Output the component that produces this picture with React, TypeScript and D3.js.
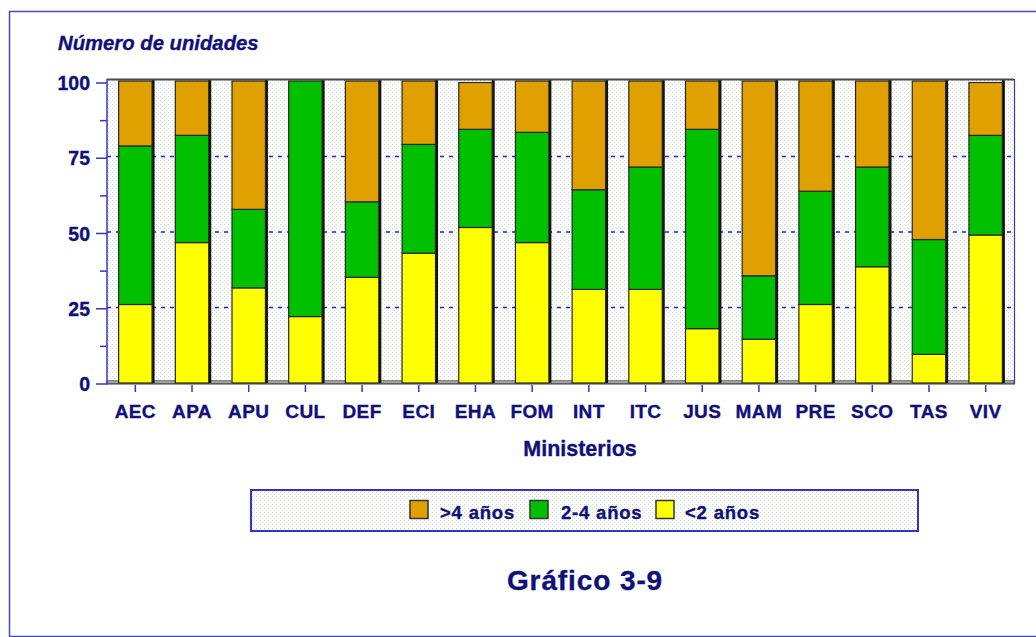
import React from 'react';
import * as d3 from 'd3';

const categories = ['AEC', 'APA', 'APU', 'CUL', 'DEF', 'ECI', 'EHA', 'FOM', 'INT', 'ITC', 'JUS', 'MAM', 'PRE', 'SCO', 'TAS', 'VIV'];
const lessThan2 = [26, 46.5, 31.5, 22, 35, 43, 51.5, 46.5, 31, 31, 18, 14.5, 26, 38.5, 9.5, 49];
const from2to4 = [52.5, 35.5, 26, 78, 25, 36, 32.5, 36.5, 33, 40.5, 66, 21, 37.5, 33, 38, 33];
const moreThan4 = [21.5, 18, 42.5, 0, 40, 21, 15.5, 17, 36, 28.5, 16, 64.5, 36.5, 28.5, 52.5, 17.5];
const yTicks = [0, 25, 50, 75, 100];
const gridValues = [25, 50, 75];
const seriesKeys = ['lt2', 'mid', 'gt4'];
const seriesColors: Record<string, string> = { lt2: '#ffff00', mid: '#00c000', gt4: '#e0a000' };
const legendItems = [
  { label: '>4 años', color: '#e0a000', x: 410, tx: 440 },
  { label: '2-4 años', color: '#00c000', x: 530, tx: 561 },
  { label: '<2 años', color: '#ffff00', x: 656, tx: 685 },
];

const NAVY = '#10107a';
const BLUE = '#3434c8';
const FONT = '"Liberation Sans", Arial, Helvetica, sans-serif';

export default function App() {
  const W = 1036, H = 637;
  const left = 107, right = 1014, top = 80, bottom = 384;
  const x = d3.scaleBand<string>().domain(categories).range([left, right]).paddingInner(0.41).paddingOuter(0.205);
  const yBar = d3.scaleLinear().domain([0, 100]).range([383, 81]);
  const yAxis = d3.scaleLinear().domain([0, 100]).range([384, 83]);
  const bw = x.bandwidth();
  const rows = categories.map((c, i) => ({ cat: c, lt2: lessThan2[i], mid: from2to4[i], gt4: moreThan4[i] }));
  const stacked = d3.stack<any>().keys(seriesKeys)(rows);
  const minorTicks = d3.range(0, 100.01, 12.5);
  const textStroke = { stroke: NAVY, strokeWidth: 0.35 };

  return (
    <svg width={W} height={H} style={{ position: 'absolute', left: 0, top: 0, background: '#fff' }} fontFamily={FONT}>
      <defs>
        <pattern id="dots" width="4" height="4" patternUnits="userSpaceOnUse">
          <rect width="4" height="4" fill="#ffffff" />
          <rect x="0" y="0" width="1" height="1" fill="#c4dcc4" />
          <rect x="2" y="2" width="1" height="1" fill="#d6e2d6" />
        </pattern>
      </defs>
      {/* outer frame */}
      <rect x={9.5} y={11.5} width={1040} height={625} fill="none" stroke="#4848c8" strokeWidth={1.5} />

      {/* y title */}
      <text x={58} y={50} fill={NAVY} fontSize={20.3} fontStyle="italic" fontWeight="bold" {...textStroke}>Número de unidades</text>

      {/* plot background */}
      <rect x={left} y={top} width={right - left} height={bottom - top} fill="url(#dots)" />

      {/* gridlines */}
      {gridValues.map(v => (
        <line key={v} x1={left} x2={right} y1={yBar(v)} y2={yBar(v)} stroke="#2020e0" strokeWidth={1.3} strokeDasharray="4,5" />
      ))}

      {/* bottom grey base */}
      <rect x={left} y={380.5} width={right - left} height={3} fill="#a0a0a0" stroke="#505050" strokeWidth={0.6} />

      {/* bars */}
      {categories.map(c => (
        <rect key={'sh' + c} x={(x(c) as number) + bw - 0.5} y={yBar(100) - 1} width={3} height={383 - yBar(100) + 1} fill="#111" />
      ))}
      {stacked.map(s => (
        <g key={s.key}>
          {s.map((d: any, i: number) => (
            d[1] - d[0] > 0 ? (
              <rect key={i} x={x(categories[i])} y={yBar(d[1])} width={bw} height={yBar(d[0]) - yBar(d[1])}
                fill={seriesColors[s.key]} stroke="#262626" strokeWidth={1.2} />
            ) : null
          ))}
        </g>
      ))}

      {/* plot top and right edges */}
      <line x1={left} x2={right} y1={79.5} y2={79.5} stroke="#4a4a4a" strokeWidth={2} />
      <line x1={right + 0.5} x2={right + 0.5} y1={79} y2={bottom} stroke={BLUE} strokeWidth={1.2} />
      <line x1={left} x2={right + 1} y1={bottom} y2={bottom} stroke="#3a3a3a" strokeWidth={1.2} />

      {/* y axis */}
      <line x1={left} x2={left} y1={79} y2={bottom + 0.5} stroke={BLUE} strokeWidth={1.5} />
      {minorTicks.map(v => (
        <line key={v} x1={v % 25 === 0 ? left - 11 : left - 7} x2={left} y1={yAxis(v)} y2={yAxis(v)} stroke={BLUE} strokeWidth={1.5} />
      ))}
      {yTicks.map(v => (
        <text key={v} x={90} y={yAxis(v)} dy="0.36em" textAnchor="end" fill={NAVY} fontSize={19.5} fontWeight="bold" {...textStroke}>{v}</text>
      ))}

      {/* x axis ticks and labels */}
      {categories.map(c => {
        const cx = (x(c) as number) + bw / 2;
        return (
          <g key={'xl' + c}>
            <line x1={cx} x2={cx} y1={bottom + 1} y2={bottom + 8} stroke={BLUE} strokeWidth={1.5} />
            <text x={cx} y={418} textAnchor="middle" fill={NAVY} fontSize={19} fontWeight="bold" letterSpacing={0.4} {...textStroke}>{c}</text>
          </g>
        );
      })}
      <text x={580} y={456} textAnchor="middle" fill={NAVY} fontSize={21.5} fontWeight="bold" {...textStroke}>Ministerios</text>

      {/* legend */}
      <rect x={251} y={490} width={667} height={41} fill="url(#dots)" stroke={BLUE} strokeWidth={2} />
      {legendItems.map(it => (
        <g key={it.label}>
          <rect x={it.x} y={500.5} width={18} height={18} fill={it.color} stroke="#333" strokeWidth={1.5} />
          <text x={it.tx} y={519} fill={NAVY} fontSize={18.5} fontWeight="bold" letterSpacing={0.8} {...textStroke}>{it.label}</text>
        </g>
      ))}

      {/* title */}
      <text x={585} y={590} textAnchor="middle" fill={NAVY} fontSize={28} fontWeight="bold" letterSpacing={0.9} {...textStroke}>Gráfico 3-9</text>
    </svg>
  );
}
